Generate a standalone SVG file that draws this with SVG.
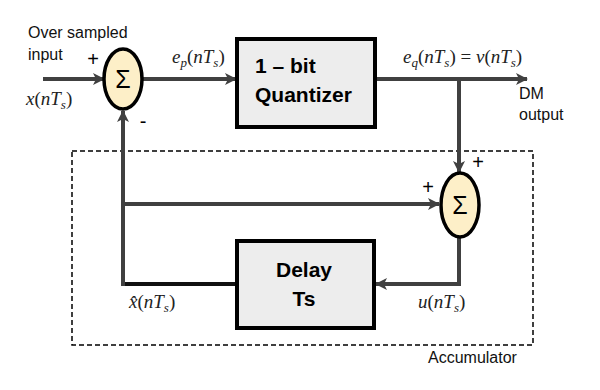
<svg xmlns="http://www.w3.org/2000/svg" width="600" height="390" viewBox="0 0 600 390">
<defs>
<style>
.lbl{font-family:"Liberation Sans",Arial,sans-serif;font-size:16px;fill:#111}
.math{font-family:"Liberation Serif","Times New Roman",serif;font-style:italic;font-size:19px;fill:#222}
.up{font-style:normal}
.sub{font-size:13px}
.box{fill:#ededed;stroke:#000;stroke-width:4}
.btxt{font-family:"Liberation Sans",Arial,sans-serif;font-weight:bold;font-size:21px;fill:#000}
.sum{fill:#fdefc8;stroke:#000;stroke-width:3.5}
.sig{font-family:"Liberation Sans",Arial,sans-serif;font-size:25px;fill:#000;text-anchor:middle}
.sign{font-family:"Liberation Sans",Arial,sans-serif;font-size:20px;fill:#000;text-anchor:middle}
.wire{fill:none;stroke:#404040;stroke-width:4}
.wireb{fill:none;stroke:#111;stroke-width:4}
</style>
<marker id="arr" viewBox="0 0 12 12" refX="11" refY="6" markerWidth="12" markerHeight="12" markerUnits="userSpaceOnUse" orient="auto">
<path d="M0,0 L12,6 L0,12 L3,6 Z" fill="#404040"/>
</marker>
</defs>

<g id="accumulator">
<rect x="72" y="151" width="461" height="194" fill="none" stroke="#000" stroke-width="1.5" stroke-dasharray="5,3"/>
<text class="lbl" x="428" y="363">Accumulator</text>
</g>

<g id="connectors">
<line class="wire" x1="43" y1="79" x2="104" y2="79" marker-end="url(#arr)"/>
<line class="wire" x1="143" y1="79" x2="236" y2="79" marker-end="url(#arr)"/>
<line class="wire" x1="375" y1="79" x2="527" y2="79" marker-end="url(#arr)"/>
<line class="wire" x1="459" y1="79" x2="459" y2="172" marker-end="url(#arr)"/>
<polyline class="wire" points="459,237 459,284 376,284" marker-end="url(#arr)"/>
<polyline class="wireb" points="237,284 123,284"/>
<line class="wire" x1="123" y1="286" x2="123" y2="111" marker-end="url(#arr)"/>
<line class="wire" x1="123" y1="204" x2="439" y2="204" marker-end="url(#arr)"/>
</g>

<g id="sum1">
<ellipse class="sum" cx="123" cy="79" rx="19" ry="30"/>
<text class="sig" x="123" y="88">Σ</text>
<text class="sign" x="93" y="66">+</text>
<text class="sign" x="143" y="128">-</text>
</g>

<g id="quantizer">
<rect class="box" x="237" y="39" width="138" height="88"/>
<text class="btxt" x="255" y="73">1 – bit</text>
<text class="btxt" x="255" y="102">Quantizer</text>
</g>

<g id="sum2">
<ellipse class="sum" cx="460" cy="205" rx="19" ry="32"/>
<text class="sig" x="460" y="214">Σ</text>
<text class="sign" x="428" y="194">+</text>
<text class="sign" x="478" y="169">+</text>
</g>

<g id="delay">
<rect class="box" x="237" y="241" width="137" height="87"/>
<text class="btxt" x="304" y="277" text-anchor="middle">Delay</text>
<text class="btxt" x="304" y="306" text-anchor="middle">Ts</text>
</g>

<g id="labels">
<text class="lbl" x="28" y="38">Over sampled</text>
<text class="lbl" x="28" y="60">input</text>
<text class="math" x="26" y="105">x<tspan class="up">(</tspan>nT<tspan class="sub" dy="4">s</tspan><tspan class="up" dy="-4">)</tspan></text>
<text class="math" x="172" y="63">e<tspan class="sub" dy="4">p</tspan><tspan class="up" dy="-4">(</tspan>nT<tspan class="sub" dy="4">s</tspan><tspan class="up" dy="-4">)</tspan></text>
<text class="math" x="403" y="63">e<tspan class="sub" dy="4">q</tspan><tspan class="up" dy="-4">(</tspan>nT<tspan class="sub" dy="4">s</tspan><tspan class="up" dy="-4">) = </tspan>v<tspan class="up">(</tspan>nT<tspan class="sub" dy="4">s</tspan><tspan class="up" dy="-4">)</tspan></text>
<text class="lbl" x="519" y="99">DM</text>
<text class="lbl" x="519" y="120">output</text>
<text class="math" x="129" y="308">x̂<tspan class="up">(</tspan>nT<tspan class="sub" dy="4">s</tspan><tspan class="up" dy="-4">)</tspan></text>
<text class="math" x="418" y="308">u<tspan class="up">(</tspan>nT<tspan class="sub" dy="4">s</tspan><tspan class="up" dy="-4">)</tspan></text>
</g>
</svg>
